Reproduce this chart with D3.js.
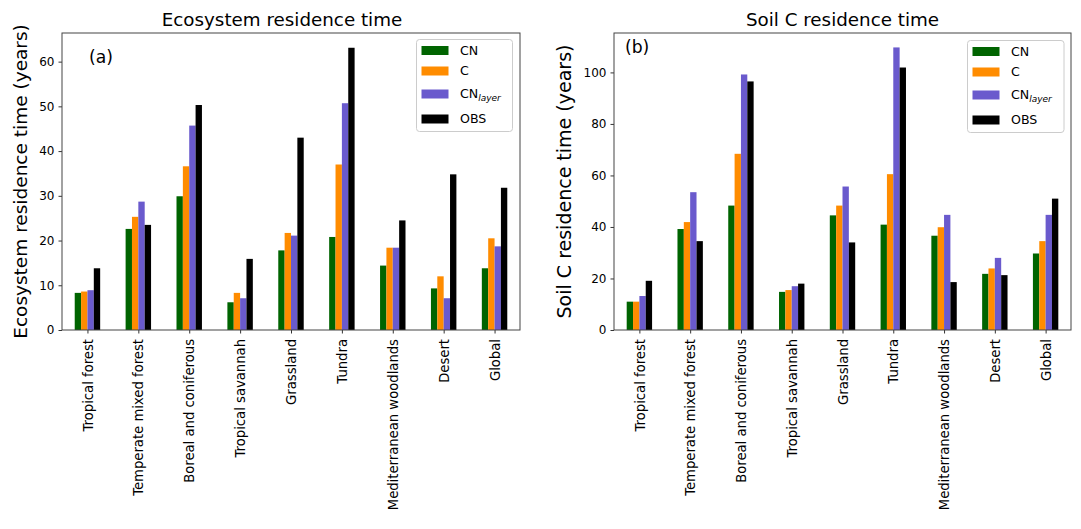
<!DOCTYPE html>
<html><head><meta charset="utf-8">
<script src="https://cdn.jsdelivr.net/npm/d3@7"></script>
<style>body{margin:0;background:#fff}svg, svg text{font-family:"DejaVu Sans",sans-serif}</style>
</head><body>
<svg id="c" width="1081" height="529"></svg>
<script>
const categories = ["Tropical forest","Temperate mixed forest","Boreal and coniferous","Tropical savannah","Grassland","Tundra","Mediterranean woodlands","Desert","Global"];
const seriesNames = ["CN","C","CN_layer","OBS"];
const seriesColors = ["#006400","#ff8c00","#6a5acd","#000000"];
// Ecosystem residence time (years)
const ecoCN     = [8.3, 22.6, 29.9, 6.2, 17.8, 20.8, 14.4, 9.3, 13.8];
const ecoC      = [8.6, 25.3, 36.6, 8.3, 21.7, 37.0, 18.4, 12.0, 20.5];
const ecoCNlay  = [8.9, 28.7, 45.7, 7.1, 21.1, 50.7, 18.4, 7.1, 18.7];
const ecoOBS    = [13.8, 23.5, 50.3, 15.9, 43.0, 63.1, 24.5, 34.8, 31.8];
// Soil C residence time (years)
const soilCN    = [11.0, 39.2, 48.3, 14.8, 44.5, 40.9, 36.6, 21.8, 29.7];
const soilC     = [11.0, 41.9, 68.4, 15.5, 48.3, 60.5, 39.9, 23.9, 34.5];
const soilCNlay = [13.2, 53.5, 99.2, 17.0, 55.7, 109.7, 44.7, 28.0, 44.7];
const soilOBS   = [19.1, 34.5, 96.5, 18.0, 34.0, 101.9, 18.6, 21.3, 51.0];
const ecoTicks = [0,10,20,30,40,50,60];
const soilTicks = [0,20,40,60,80,100];

const svg = d3.select("#c");

function panel(cfg){
  const g = svg.append("g");
  const x = d3.scaleLinear().domain([-0.5, categories.length-0.5]).range([cfg.x0, cfg.x1]);
  const y = d3.scaleLinear().domain([0, cfg.ymax]).range([cfg.y1, cfg.y0]);
  const bw = 0.125;
  cfg.series.forEach((vals, si) => {
    g.selectAll(null).data(vals).enter().append("rect")
      .attr("x", (d,i)=> x(i - 0.25 + si*bw))
      .attr("width", x(bw) - x(0))
      .attr("y", d=> y(d))
      .attr("height", d=> y(0)-y(d))
      .attr("fill", seriesColors[si]);
  });
  const xa = g.append("g").attr("transform",`translate(0,${cfg.y1})`)
    .call(d3.axisBottom(x).tickValues(d3.range(categories.length)).tickFormat(i=>categories[i]).tickSize(3.5).tickPadding(3));
  xa.attr("font-family",null).attr("font-size",null);
  xa.select(".domain").remove();
  xa.selectAll(".tick line").attr("stroke","#333");
  xa.selectAll("text").attr("transform","rotate(-90)").attr("text-anchor","end")
    .attr("x",-9).attr("y",0).attr("dy","0.35em").style("font-size","13.2px").attr("fill","#000");
  const ya = g.append("g").attr("transform",`translate(${cfg.x0},0)`)
    .call(d3.axisLeft(y).tickValues(cfg.ticks).tickSize(3.5).tickPadding(4));
  ya.attr("font-family",null).attr("font-size",null);
  ya.select(".domain").remove();
  ya.selectAll(".tick line").attr("stroke","#333");
  ya.selectAll("text").style("font-size","12px").attr("fill","#000");
  g.append("rect").attr("x",cfg.x0).attr("y",cfg.y0).attr("width",cfg.x1-cfg.x0).attr("height",cfg.y1-cfg.y0)
    .attr("fill","none").attr("stroke","#444").attr("stroke-width",1);
  g.append("text").attr("x",(cfg.x0+cfg.x1)/2 + cfg.tdx).attr("y",26).attr("text-anchor","middle")
    .style("font-size","18.3px").text(cfg.title);
  g.append("text").attr("transform",`translate(${cfg.ylx},${(cfg.y0+cfg.y1)/2}) rotate(-90)`)
    .attr("text-anchor","middle").style("font-size",cfg.ylfs).text(cfg.ylabel);
  g.append("text").attr("x",cfg.lab[0]).attr("y",cfg.lab[1]).style("font-size","17.2px").text(cfg.panel);
  const L = cfg.leg;
  g.append("rect").attr("x",L.x).attr("y",L.y).attr("width",L.w).attr("height",L.h).attr("rx",3)
    .attr("fill","#fff").attr("fill-opacity",0.8).attr("stroke","#ccc");
  const rows = [L.y+11, L.y+31.5, L.y+54.5, L.y+79.5];
  seriesNames.forEach((n,i)=>{
    g.append("rect").attr("x",L.x+5).attr("y",rows[i]-4.5).attr("width",27).attr("height",9).attr("fill",seriesColors[i]);
    const t = g.append("text").attr("x",L.x+43.5).attr("y",rows[i]).attr("dy","0.35em").style("font-size","12.6px");
    if(n==="CN_layer"){
      t.append("tspan").text("CN");
      t.append("tspan").attr("dy","3").style("font-size","9px").style("font-style","italic").text("layer");
    } else t.text(n);
  });
}

panel({x0:62,x1:520,y0:33,y1:330,ymax:66.4,ticks:ecoTicks,
  series:[ecoCN,ecoC,ecoCNlay,ecoOBS],title:"Ecosystem residence time",tdx:-9,
  ylabel:"Ecosystem residence time (years)",ylx:27,ylfs:"18.5px",panel:"(a)",lab:[89,63],
  leg:{x:416.5,y:39.5,w:96,h:92}});
panel({x0:614,x1:1071,y0:33,y1:330,ymax:115.3,ticks:soilTicks,
  series:[soilCN,soilC,soilCNlay,soilOBS],title:"Soil C residence time",tdx:0,
  ylabel:"Soil C residence time (years)",ylx:571,ylfs:"19px",panel:"(b)",lab:[625,53],
  leg:{x:967.5,y:40.5,w:96.5,h:92}});
</script>
</body></html>
